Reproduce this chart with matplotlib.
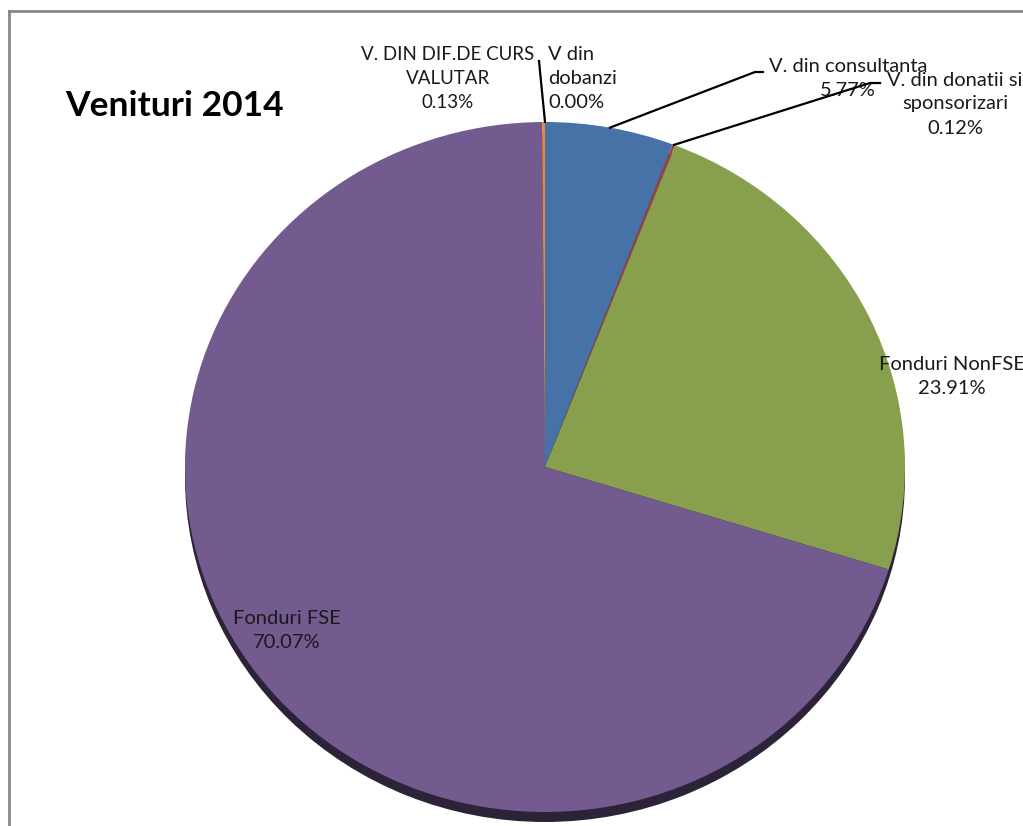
import numpy as np
import matplotlib
matplotlib.use('Agg')
import matplotlib.pyplot as plt
from matplotlib.lines import Line2D

plt.rcParams['font.family'] = ['Lato', 'DejaVu Sans']

# slices, clockwise from 12 o'clock
labels = ['V. din consultanta', 'V. din donatii si\nsponsorizari', 'Fonduri NonFSE',
          'Fonduri FSE', 'V. DIN DIF.DE CURS\nVALUTAR', 'V din\ndobanzi']
shares = [5.77, 0.12, 23.91, 70.07, 0.13, 0.00]
colors = ['#4672A8', '#A0413E', '#88A04E', '#735A8F', '#E8883A', '#4BACC6']
title = 'Venituri 2014'

W, H = 1023, 826
cx, cy, rx, ry = 545, 467, 360, 345   # ellipse of the pie top, in pixels


def to_data(x, y):
    return (x - cx) / rx, (cy - y) / ry


fig = plt.figure(figsize=(W / 100, H / 100), dpi=100)
ax = fig.add_axes([0, 0, 1, 1])

# dark rim under the pie (3d edge)
ax.pie([1], colors=['#2D2339'], radius=1, center=(0, -10 / ry),
       wedgeprops=dict(linewidth=0))
wedges, _ = ax.pie(shares, colors=colors, startangle=90, counterclock=False,
                   radius=1, center=(0, 0), wedgeprops=dict(linewidth=0))
ax.set_aspect('auto')
x0, y0 = to_data(0, H)
x1, y1 = to_data(W, 0)
ax.set_xlim(x0, x1)
ax.set_ylim(y0, y1)
ax.axis('off')

# data labels: x, y (pixels), alignment, size
lab_pos = {
    0: (848, 79, 'center', 14.5),
    1: (955, 104, 'center', 14.5),
    2: (952, 377, 'center', 14.5),
    3: (287, 630, 'center', 14.5),
    4: (448, 78, 'center', 13.5),
    5: (548, 78, 'left', 14.5),
}
for i, (x, y, ha, fs) in lab_pos.items():
    txt = f'{labels[i]}\n{shares[i]:.2f}%'
    tx, ty = to_data(x, y)
    ax.text(tx, ty, txt, ha=ha, va='center', fontsize=fs, linespacing=1.5,
            color='#1a1a1a',
            multialignment='center' if ha == 'center' else 'left', zorder=5)

# leader lines: from slice middle on the rim to the label
cum = np.cumsum([0] + shares)
leaders = {0: [(755, 72), (763, 72)], 1: [(870, 83), (880, 83)], 5: [(539, 61)]}
for i, pts in leaders.items():
    ang = np.deg2rad(90 - (cum[i] + shares[i] / 2) * 3.6)
    xs = [np.cos(ang)] + [to_data(*p)[0] for p in pts]
    ys = [np.sin(ang)] + [to_data(*p)[1] for p in pts]
    ax.plot(xs, ys, color='black', lw=1.6, zorder=6)

fig.text(65 / W, 1 - 106 / H, title, fontsize=25.5, fontweight='bold',
         ha='left', va='center')

# chart area frame (cut at right and bottom)
fig.add_artist(Line2D([9 / W, 9 / W], [0, 1 - 11 / H], transform=fig.transFigure,
                      color='#868686', lw=2))
fig.add_artist(Line2D([9 / W, 1], [1 - 11 / H, 1 - 11 / H], transform=fig.transFigure,
                      color='#868686', lw=2))

fig.savefig('out.png', dpi=100, facecolor='white')
